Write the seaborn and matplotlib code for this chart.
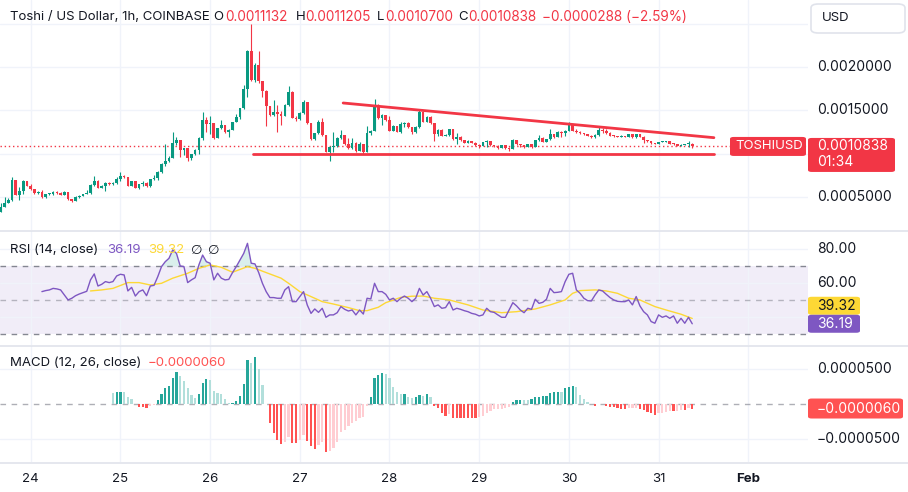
import numpy as np
import matplotlib
matplotlib.use("Agg")
import matplotlib.pyplot as plt
from matplotlib.patches import FancyBboxPatch
from matplotlib.lines import Line2D
import seaborn as sns

# ---------------------------------------------------------------
# data: hourly TOSHI/USD candles, hour 0 = Jan 24 00:00
# prices in 1e-4 USD, open = previous close
# ---------------------------------------------------------------
LAST_HOUR = 177
first_open = 3.31

close = [
    3.89, 4.35, 4.66, 6.97, 5.24, 5.74, 6.85, 6.32,
    5.89, 5.43, 5.62, 4.97, 5.35, 5.40, 5.62, 5.43, 5.24, 5.55, 4.77, 4.54,
    5.04, 5.16, 5.35, 5.51, 6.43, 6.85, 6.09, 6.32, 6.63, 6.50, 6.63, 7.12,
    7.39, 7.32, 6.32, 6.85, 6.09, 6.47, 6.66, 6.24, 7.05, 7.24, 7.93, 8.81,
    9.19, 9.54, 11.19, 11.58, 10.42, 10.69, 9.46, 9.96, 10.42, 11.77, 13.89, 13.39,
    13.50, 11.77, 12.92, 13.31, 12.46, 12.73, 13.62, 14.27, 15.23, 17.46, 21.85, 18.46,
    20.20, 18.35, 17.20, 15.50, 14.46, 14.85, 14.58, 14.40, 15.62, 17.16, 14.16, 13.97,
    14.66, 16.00, 13.50, 11.65, 12.35, 13.62, 12.16, 10.23, 10.81, 10.90, 11.77, 12.16,
    11.12, 10.62, 11.27, 10.31, 11.12, 10.23, 12.43, 12.62, 15.50, 14.08, 14.46, 13.89,
    12.65, 13.20, 12.55, 13.43, 13.58, 13.12, 12.46, 13.12, 14.81, 13.62, 14.27, 13.50,
    12.23, 12.73, 12.04, 12.20, 12.85, 11.65, 11.96, 11.58, 11.27, 11.50, 11.27, 10.96,
    10.90, 11.38, 11.50, 10.96, 10.90, 10.69, 10.96, 10.70, 10.50, 11.58, 11.12, 10.96,
    10.81, 11.08, 10.81, 11.58, 11.85, 11.35, 11.65, 12.23, 11.89, 12.53, 12.40, 12.62,
    13.39, 12.65, 12.50, 12.35, 12.27, 12.04, 11.90, 12.20, 12.70, 12.60, 12.40, 12.08,
    12.00, 11.95, 12.10, 11.95, 12.27, 11.89, 12.27, 11.96, 11.58, 11.46, 11.19, 11.15,
    11.38, 11.40, 11.46, 11.12, 11.08, 10.92, 11.05, 11.10, 11.132, 10.838,
]
high = [
    4.35, 4.97, 4.85, 7.28, 6.97, 6.20, 6.97, 6.90,
    6.50, 5.90, 5.70, 5.80, 5.40, 5.50, 5.70, 5.70, 5.60, 5.70, 5.60, 4.80,
    5.10, 5.20, 5.40, 5.80, 6.50, 7.43, 6.97, 6.40, 6.70, 6.70, 6.70, 7.30,
    7.89, 7.50, 7.30, 6.90, 6.90, 6.50, 6.80, 6.70, 7.10, 7.50, 8.00, 8.90,
    11.12, 9.70, 12.46, 11.89, 11.60, 10.70, 10.70, 10.00, 10.50, 11.96, 14.85, 14.20,
    14.30, 13.50, 13.00, 13.90, 13.30, 12.80, 13.70, 14.54, 15.30, 17.93, 21.96, 25.00,
    20.50, 21.85, 18.40, 17.30, 15.50, 16.20, 15.60, 14.90, 15.70, 17.85, 17.20, 14.30,
    14.80, 16.20, 16.00, 13.50, 12.40, 13.89, 14.08, 12.20, 10.90, 12.46, 11.90, 12.73,
    12.20, 11.77, 11.77, 11.30, 11.30, 11.10, 13.20, 12.70, 16.30, 15.70, 14.60, 14.50,
    14.30, 13.30, 13.20, 13.70, 13.70, 13.60, 13.10, 13.20, 15.00, 14.90, 14.30, 14.30,
    13.50, 12.80, 12.90, 12.30, 12.90, 12.90, 12.35, 12.00, 11.60, 11.60, 11.50, 11.30,
    11.10, 11.40, 11.60, 11.20, 11.00, 11.00, 11.00, 10.90, 10.80, 11.70, 11.60, 11.10,
    11.00, 11.10, 11.10, 11.60, 12.20, 11.90, 11.70, 12.85, 12.30, 12.60, 12.60, 12.70,
    13.62, 13.30, 12.90, 12.60, 12.40, 12.30, 12.20, 12.30, 13.10, 13.00, 12.80, 12.50,
    12.20, 12.10, 12.15, 12.10, 12.30, 12.27, 12.30, 12.27, 12.00, 11.60, 11.50, 11.25,
    11.40, 11.45, 11.50, 11.46, 11.20, 11.10, 11.10, 11.15, 11.45, 11.205,
]
low = [
    3.31, 3.81, 4.27, 4.58, 5.20, 4.66, 5.35, 6.30,
    5.80, 5.40, 5.40, 4.90, 4.90, 5.20, 5.20, 5.40, 5.20, 5.20, 4.70, 4.40,
    4.50, 4.90, 5.10, 5.30, 5.40, 6.30, 6.00, 6.00, 5.74, 6.40, 6.40, 6.50,
    6.90, 7.20, 6.30, 6.30, 6.00, 5.90, 6.30, 6.20, 6.20, 7.00, 7.00, 7.80,
    8.60, 9.00, 9.50, 11.00, 9.60, 9.90, 9.20, 9.30, 9.90, 10.00, 11.60, 12.50,
    12.30, 11.70, 11.80, 12.80, 12.40, 11.96, 12.70, 13.60, 14.00, 15.20, 16.50, 18.40,
    18.30, 18.20, 16.50, 13.20, 14.40, 14.40, 12.54, 13.30, 14.30, 15.50, 14.10, 13.80,
    13.90, 14.60, 13.40, 11.60, 11.60, 12.30, 12.10, 10.20, 9.19, 10.20, 10.80, 11.70,
    11.00, 10.50, 10.60, 10.20, 10.30, 9.96, 10.20, 12.20, 12.60, 14.00, 13.30, 13.80,
    12.60, 12.60, 12.50, 12.40, 13.10, 13.00, 12.30, 12.40, 13.00, 13.60, 13.60, 13.40,
    11.50, 12.10, 12.00, 12.00, 12.10, 11.60, 11.12, 11.50, 11.20, 11.20, 11.20, 10.90,
    10.70, 10.90, 10.80, 10.90, 10.80, 10.60, 10.70, 10.60, 10.35, 10.50, 11.00, 10.80,
    10.70, 10.80, 10.70, 10.80, 11.50, 11.30, 11.30, 11.60, 11.80, 11.90, 11.96, 12.00,
    12.60, 12.60, 12.40, 12.30, 12.20, 12.00, 11.80, 11.85, 12.10, 12.40, 12.30, 12.00,
    11.90, 11.90, 11.95, 11.90, 11.90, 11.85, 11.85, 11.90, 11.20, 11.40, 11.15, 11.10,
    11.10, 11.30, 11.35, 11.10, 11.00, 10.90, 10.90, 11.00, 10.80, 10.700,
]

# RSI(14) readings, hours 3..177
rsi = [
    55.1, 55.7, 56.1, 57.0, 56.7, 56.1, 53.1, 50.2, 51.2, 52.7, 53.7, 54.5, 55.3,
    62.0, 65.5, 58.4, 59.4, 61.0, 60.4, 61.0, 64.3, 65.3, 64.9, 55.5, 57.6, 52.5,
    55.1, 56.1, 52.7, 58.4, 58.8, 63.9, 69.8, 72.7, 74.7, 79.6, 77.6, 70.2, 69.8,
    60.4, 62.0, 63.3, 70.8, 76.6, 72.7, 71.8, 62.0, 65.9, 63.0, 62.0, 62.3, 66.3,
    69.8, 73.7, 77.6, 83.5, 71.8, 71.4, 66.3, 60.0, 55.1, 51.6, 51.6, 51.2, 51.2,
    56.1, 58.0, 49.2, 49.2, 52.2, 55.1, 47.2, 42.3, 44.9, 42.9, 45.3, 40.0, 41.4,
    41.4, 42.7, 46.3, 44.7, 43.7, 44.3, 41.4, 44.3, 41.9, 51.2, 50.8, 60.0, 55.1,
    55.1, 53.5, 50.2, 51.2, 49.2, 51.2, 52.5, 51.2, 49.2, 51.2, 57.0, 53.1, 55.1,
    51.2, 46.3, 47.3, 45.3, 45.7, 49.2, 44.3, 45.3, 44.7, 43.9, 43.3, 42.3, 41.8,
    40.8, 41.4, 45.3, 43.3, 42.9, 41.4, 40.0, 40.0, 44.3, 48.6, 46.7, 44.3, 42.7,
    45.3, 44.7, 50.6, 48.2, 48.8, 50.6, 57.0, 54.5, 54.7, 55.1, 61.0, 65.3, 65.9,
    56.1, 54.1, 51.2, 49.8, 49.6, 53.1, 56.1, 55.5, 53.5, 51.6, 50.2, 49.4, 49.2,
    49.2, 50.2, 47.3, 52.2, 46.7, 43.3, 41.4, 37.5, 36.5, 41.4, 40.0, 40.8, 39.4,
    40.8, 36.5, 39.4, 36.5, 40.0, 36.19,
]

# RSI-based MA readings (hour, value)
rsi_ma_hours = [16, 19, 22, 26, 29, 32, 35, 38, 42, 45, 48, 51, 54, 58, 60, 63, 67,
                69, 72, 76, 78, 81, 85, 88, 90, 93, 95, 99, 102, 105, 108, 112, 117,
                121, 126, 130, 135, 139, 143, 145, 147, 151, 154, 157, 160, 163, 167,
                170, 174, 177]
rsi_ma = [55.5, 56.1, 57.0, 60.4, 60.4, 59.0, 60.0, 63.0, 65.9, 68.8, 70.8, 69.4,
          66.5, 69.8, 68.8, 66.3, 63.0, 60.0, 55.1, 51.2, 49.2, 47.8, 45.7, 43.9,
          43.9, 45.9, 48.6, 51.7, 52.4, 52.5, 51.2, 50.2, 47.3, 44.3, 42.7, 43.3,
          44.9, 47.3, 50.2, 54.1, 55.7, 56.1, 55.5, 54.1, 51.2, 50.2, 46.3, 44.3,
          41.8, 39.32]

# MACD histogram (1e-6 USD), hours 22..177
macd_hist = [
    15.7, 17.0, 17.2, 17.0, 10.0, 7.6, 0.5, -3.3, -4.3, -5.7, -2.4, -0.5, 6.2,
    14.3, 22.8, 26.0, 38.0, 45.7, 40.5, 33.3, 22.8, 13.3, 9.5, 14.3, 31.0, 35.7,
    35.2, 19.5, 15.7, 14.8, 7.1, 2.4, 2.5, 4.8, 11.9, 29.0, 63.0, 59.5, 68.0,
    50.0, 27.6, 0.5, -26.0, -41.4, -50.9, -57.0, -53.8, -46.2, -54.7, -55.2, -50.9,
    -43.8, -52.0, -59.5, -64.3, -58.1, -53.3, -67.6, -66.5, -62.8, -53.3, -40.0,
    -36.7, -31.0, -26.2, -23.8, -20.0, -17.6, -1.9, 10.0, 37.0, 41.9, 44.3, 42.8,
    37.0, 25.2, 18.0, 14.5, 15.0, 11.0, 9.0, 10.5, 13.3, 12.4, 14.8, 11.0, -2.4,
    -4.8, -12.9, -16.2, -13.8, -19.0, -19.3, -19.5, -19.7, -19.9, -20.0, -20.2,
    -17.6, -17.3, -12.9, -9.0, -7.1, -7.0, -6.7, -4.8, -3.3, 2.9, 6.2, 6.5, 5.7,
    5.5, 7.1, 10.0, 11.0, 11.2, 11.9, 16.7, 17.1, 17.5, 17.2, 22.8, 25.2, 26.7,
    24.3, 13.3, 7.1, 2.9, 0.5, -2.4, 0.3, 0.1, -1.9, -3.3, -4.3, -5.7, -7.1,
    -7.2, -5.7, -5.6, -5.5, -7.1, -8.1, -10.5, -11.9, -15.2, -12.9, -11.9, -10.5,
    -9.5, -9.6, -9.0, -8.1, -8.3, -5.7, -6.0,
]

# drawn trend lines (hour, price 1e-4)
upper_line_h = [83.6, 182.8]
upper_line_p = [15.85, 11.85]
lower_line_h = [59.6, 182.8]
lower_line_p = [10.0, 10.0]

day_hours = [0, 24, 48, 72, 96, 120, 144, 168, 192]
day_labels = ["24", "25", "26", "27", "28", "29", "30", "31", "Feb"]

price_grid = [5, 10, 15, 20, 25]
price_labels = {20: "0.0020000", 15: "0.0015000", 5: "0.0005000"}
rsi_grid = [40, 60, 80]
rsi_labels = [80, 60]
macd_grid = [-50, 50]

# ---------------------------------------------------------------
UP = "#089981"
DOWN = "#f23645"
TXT = "#131722"
GRID = "#f0f3fa"
SEP = "#e0e3eb"
PURPLE = "#7e57c2"
YELLOW = "#fdd835"

sns.set_theme(style="white")
plt.rcParams['font.family'] = ['Inter', 'DejaVu Sans']
plt.rcParams['axes.unicode_minus'] = True

W, H = 908, 492
fig = plt.figure(figsize=(W / 100, H / 100), dpi=100)
fig.patch.set_facecolor("white")


def fx(x):
    return x / W


def fy(y):
    return 1 - y / H


PANE_R = 808
ax_p = fig.add_axes([0, fy(230), fx(PANE_R), 230 / H])
ax_r = fig.add_axes([0, fy(345), fx(PANE_R), 114 / H])
ax_m = fig.add_axes([0, fy(462), fx(PANE_R), 116 / H])

x0_h = (0 - 30.7) / 3.7375
x1_h = (PANE_R - 30.7) / 3.7375
for ax in (ax_p, ax_r, ax_m):
    ax.set_facecolor("white")
    ax.set_xlim(x0_h, x1_h)
    for s in ax.spines.values():
        s.set_visible(False)
    ax.set_xticks(day_hours)
    ax.grid(True, color=GRID, linewidth=1)
    ax.tick_params(length=0, labelleft=False, labelbottom=False)
    ax.set_axisbelow(True)

ax_p.set_ylim(1.20, 27.73)
ax_p.set_yticks(price_grid)
ax_r.set_ylim(23.7, 90.76)
ax_r.set_yticks(rsi_grid)
ax_m.set_ylim(-82.4, 83.3)
ax_m.set_yticks(macd_grid)

# ---------------- candles ----------------
c = np.array(close)
hi = np.array(high)
lo = np.array(low)
hours = np.arange(LAST_HOUR - len(c) + 1, LAST_HOUR + 1)
o = np.concatenate([[first_open], c[:-1]])
hi = np.maximum(hi, np.maximum(o, c))
lo = np.minimum(lo, np.minimum(o, c))
cols = np.where(c >= o, UP, DOWN)
ax_p.vlines(hours, lo, hi, colors=cols, linewidth=0.8, zorder=3)
body = np.maximum(np.abs(c - o), 0.12)
ax_p.bar(hours, body, bottom=np.minimum(o, c), width=0.72, color=cols,
         linewidth=0, zorder=4)

# trend lines + last price line
ax_p.plot(upper_line_h, upper_line_p, color=DOWN, linewidth=2.0,
          solid_capstyle="round", zorder=5)
ax_p.plot(lower_line_h, lower_line_p, color=DOWN, linewidth=2.0,
          solid_capstyle="round", zorder=5)
last = c[-1]
ax_p.axhline(last, color=DOWN, linewidth=1.0, linestyle=(0, (1, 2)), zorder=2)

# ---------------- RSI ----------------
r = np.array(rsi)
r_hours = np.arange(LAST_HOUR - len(r) + 1, LAST_HOUR + 1)
ax_r.axhspan(30, 70, color=PURPLE, alpha=0.1, linewidth=0, zorder=0)
for lvl, a in ((70, 0.9), (50, 0.5), (30, 0.9)):
    ax_r.axhline(lvl, color="#787b86", alpha=a, linewidth=1,
                 linestyle=(0, (4, 4)), zorder=1)
ax_r.fill_between(r_hours, 70, r, where=r > 70, interpolate=True,
                  color=UP, alpha=0.15, linewidth=0, zorder=2)
sns.lineplot(x=rsi_ma_hours, y=rsi_ma, ax=ax_r, color=YELLOW, linewidth=1.0,
             zorder=3)
sns.lineplot(x=r_hours, y=r, ax=ax_r, color=PURPLE, linewidth=1.0, zorder=4)
ax_r.set_xlabel("")
ax_r.set_ylabel("")

# ---------------- MACD histogram ----------------
m = np.array(macd_hist)
m_hours = np.arange(LAST_HOUR - len(m) + 1, LAST_HOUR + 1)
prev = np.concatenate([[m[0] + 1], m[:-1]])
m_cols = np.where(m >= 0,
                  np.where(m > prev, "#26a69a", "#b2dfdb"),
                  np.where(m < prev, "#ff5252", "#ffcdd2"))
ax_m.axhline(0, color="#787b86", alpha=0.6, linewidth=1,
             linestyle=(0, (4, 4)), zorder=1)
ax_m.bar(m_hours, m, width=0.6, color=m_cols, linewidth=0, zorder=3)

# x labels
ax_m.tick_params(axis="x", labelbottom=True, pad=8, labelsize=9.5,
                 labelcolor=TXT)
ax_m.set_xticks(day_hours, labels=day_labels)
ax_m.get_xticklabels()[-1].set_fontweight("bold")

# ---------------- separators ----------------
for yy in (230.5, 345.5, 462.5):
    fig.add_artist(Line2D([0, 1], [fy(yy), fy(yy)], transform=fig.transFigure,
                          color=SEP, linewidth=1.2))

FS = 9.5     # word labels
FN = 10      # numeric labels on the price scale


def fig_y_of(ax, v):
    return fig.transFigure.inverted().transform(ax.transData.transform((0, v)))[1]


def tag(x0, x1, yc, h, fc):
    fig.add_artist(FancyBboxPatch((fx(x0), yc - h / 2 / H), (x1 - x0) / W, h / H,
                                  boxstyle="round,pad=0,rounding_size=0.004",
                                  transform=fig.transFigure, fc=fc, ec="none",
                                  zorder=10))


# ---------------- header texts ----------------
hy = fy(17)
fig.text(fx(10), hy, "Toshi / US Dollar, 1h, COINBASE", color=TXT,
         fontsize=FS, va="center")
ohlc = [("O", 213, "0.0011132", 225), ("H", 296, "0.0011205", 305),
        ("L", 377, "0.0010700", 385), ("C", 458, "0.0010838", 468)]
for k, kx, val, vx in ohlc:
    fig.text(fx(kx), hy, k, color=TXT, fontsize=FS, va="center")
    fig.text(fx(vx), hy, val, color=DOWN, fontsize=9.8, va="center")
fig.text(fx(542), hy, "\u22120.0000288 (\u22122.59%)", color=DOWN,
         fontsize=9.8, va="center")

ry = fy(250)
fig.text(fx(10), ry, "RSI (14, close)", color=TXT, fontsize=FS, va="center")
fig.text(fx(107), ry, "36.19", color=PURPLE, fontsize=FS, va="center")
fig.text(fx(148), ry, "39.32", color=YELLOW, fontsize=FS, va="center")
fig.text(fx(191), ry, "\u2205", color=TXT, fontsize=FS, va="center",
         family=["DejaVu Sans"])
fig.text(fx(208), ry, "\u2205", color=TXT, fontsize=FS, va="center",
         family=["DejaVu Sans"])

my = fy(363)
fig.text(fx(10), my, "MACD (12, 26, close)", color=TXT, fontsize=FS, va="center")
fig.text(fx(148), my, "\u22120.0000060", color="#ff5252", fontsize=FS, va="center")

# ---------------- right scale ----------------
LX = fx(817)
fig.add_artist(FancyBboxPatch((fx(811), fy(33)), 94 / W, 29 / H,
                              boxstyle="round,pad=0,rounding_size=0.008",
                              transform=fig.transFigure, fc="white", ec=SEP,
                              linewidth=1.2, zorder=10))
fig.text(fx(822), fy(18), "USD", color=TXT, fontsize=FS, va="center", zorder=11)

for v, lab in price_labels.items():
    fig.text(LX, fig_y_of(ax_p, v), lab, color=TXT, fontsize=FN, va="center")

py = fig_y_of(ax_p, last)
tag(808, 895, py - 8.5 / H, 34, DOWN)
fig.text(LX, py, "0.0010838", color="white", fontsize=FN, va="center", zorder=11)
fig.text(LX, py - 16 / H, "01:34", color="white", fontsize=FN, va="center",
         zorder=11)
tag(730, 806, py, 19, DOWN)
fig.text(fx(735), py, "TOSHIUSD", color="white", fontsize=FS, va="center",
         zorder=11)

for v in rsi_labels:
    fig.text(LX, fig_y_of(ax_r, v), f"{v:.2f}", color=TXT, fontsize=FN,
             va="center")
ry_p = fig_y_of(ax_r, r[-1])
ry_y = ry_p + 18 / H
tag(808, 860, ry_y, 18, YELLOW)
fig.text(LX, ry_y, f"{rsi_ma[-1]:.2f}", color=TXT, fontsize=FN, va="center",
         zorder=11)
tag(808, 860, ry_p, 18, PURPLE)
fig.text(LX, ry_p, f"{r[-1]:.2f}", color="white", fontsize=FN, va="center",
         zorder=11)

fig.text(LX, fig_y_of(ax_m, 50), "0.0000500", color=TXT, fontsize=FN, va="center")
fig.text(LX, fig_y_of(ax_m, -50), "\u22120.0000500", color=TXT, fontsize=FN,
         va="center")
my_p = fig_y_of(ax_m, m[-1])
tag(808, 903, my_p, 20, "#ff5252")
fig.text(LX, my_p, "\u22120.0000060", color="white", fontsize=FN, va="center",
         zorder=11)

fig.savefig("out.png", dpi=100, facecolor="white")
